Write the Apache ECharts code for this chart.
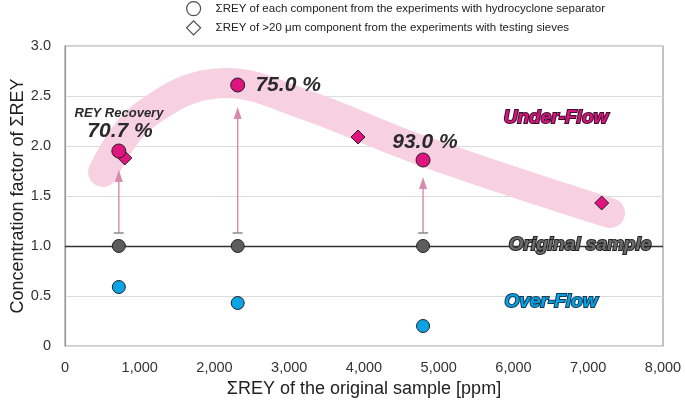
<!DOCTYPE html>
<html><head><meta charset="utf-8">
<script src="https://cdn.jsdelivr.net/npm/echarts@6/dist/echarts.min.js"></script>
<style>html,body{margin:0;padding:0;background:#fff}#c{width:685px;height:409px}</style>
</head><body><div id="c"></div>
<script>
// Data
const origX = [720, 2310, 4790];
const originalY = [1.0, 1.0, 1.0];
const underFlowY = [1.95, 2.61, 1.86];
const overFlowY = [0.59, 0.43, 0.20];
const sieveX = [800, 3920, 7180];
const sieveY = [1.88, 2.09, 1.43];
const recoveries = ['70.7 %', '75.0 %', '93.0 %'];
const arrowBottom = [1.13, 1.13, 1.13];
const arrowTop = [1.76, 2.39, 1.69];
const bandPath = [[510,1.74],[1050,2.3],[2150,2.63],[3150,2.43],[4790,1.95],[7290,1.33]];
const xTicks = [0,1000,2000,3000,4000,5000,6000,7000,8000];
const yTicks = [0,0.5,1.0,1.5,2.0,2.5,3.0];
const legendNames = ['ΣREY of each component from the experiments with hydrocyclone separator','ΣREY of >20 μm component from the experiments with testing sieves'];

const FONT = '"Liberation Sans", Arial, sans-serif';
const chart = echarts.init(document.getElementById('c'));

const arrowData = origX.map((x,i)=>[x, arrowBottom[i], arrowTop[i]]);

const annot = [
  {value:[722,2.33], text:'REY Recovery', style:'rec'},
  {value:[736,2.15], text:recoveries[0], style:'pct'},
  {value:[2985,2.61], text:recoveries[1], style:'pct'},
  {value:[4815,2.04], text:recoveries[2], style:'pct'},
  {value:[6569,2.28], text:'Under-Flow', style:'uf'},
  {value:[6890,1.01], text:'Original sample', style:'os'},
  {value:[6502,0.44], text:'Over-Flow', style:'of'}
];
const richStyles = {
  rec:{fontSize:13, fontWeight:'bold', fontStyle:'italic', color:'#2a2a2a', fontFamily:FONT},
  pct:{fontSize:21, fontWeight:'bold', fontStyle:'italic', color:'#2a2a2a', fontFamily:FONT},
  uf:{fontSize:19, fontWeight:'bold', fontStyle:'italic', color:'#d4157e', fontFamily:FONT, textBorderColor:'#3a1028', textBorderWidth:2},
  os:{fontSize:19, fontWeight:'bold', fontStyle:'italic', color:'#6b6b6b', fontFamily:FONT, textBorderColor:'#222', textBorderWidth:2},
  of:{fontSize:19, fontWeight:'bold', fontStyle:'italic', color:'#0aa0e0', fontFamily:FONT, textBorderColor:'#123a55', textBorderWidth:2}
};

const marker = (c)=>({color:c, borderColor:'#222', borderWidth:1, opacity:1});

chart.setOption({
  animation:false,
  backgroundColor:'#fff',
  grid:{left:65, right:22, top:46, bottom:63, show:true, borderColor:'#9a9a9a', borderWidth:1.2, containLabel:false, outerBoundsMode:'none'},
  legend:{
    orient:'vertical', left:181, top:-4, itemGap:4, itemWidth:14, itemHeight:14,
    data:[{name:legendNames[0], icon:'circle'},{name:legendNames[1], icon:'diamond'}],
    textStyle:{fontFamily:FONT, fontSize:11.5, color:'#222', padding:[0,0,0,10]},
    itemStyle:{color:'#fff', borderColor:'#222', borderWidth:1.2}
  },
  xAxis:{
    type:'value', min:0, max:8000, interval:1000,
    axisLine:{show:false}, axisTick:{show:false}, splitLine:{show:false},
    axisLabel:{fontFamily:FONT, fontSize:14.5, color:'#333', margin:14,
      formatter:v=>v.toLocaleString('en-US')},
    name:'ΣREY of the original sample [ppm]', nameLocation:'middle', nameGap:33,
    nameTextStyle:{fontFamily:FONT, fontSize:18, color:'#222'}
  },
  yAxis:{
    type:'value', min:0, max:3, interval:0.5,
    axisLine:{show:true, lineStyle:{color:'#9a9a9a', width:1.2}}, axisTick:{show:false},
    splitLine:{show:true, lineStyle:{color:'#dcdcdc', width:1}},
    axisLabel:{fontFamily:FONT, fontSize:14.5, color:'#333', margin:14,
      formatter:v=>v===0?'0':v.toFixed(1)},
    name:'Concentration factor of ΣREY', nameLocation:'middle', nameGap:38, nameMoveOverlap:false,
    nameTextStyle:{fontFamily:FONT, fontSize:18, color:'#222'}
  },
  series:[
    {name:legendNames[0], type:'scatter', data:[], itemStyle:{color:'#fff'}},
    {name:legendNames[1], type:'scatter', data:[], itemStyle:{color:'#fff'}},
    {type:'line', data:bandPath, smooth:0.4, symbol:'none', silent:true, z:1,
      lineStyle:{color:'#f7d0e1', width:30, cap:'round', join:'round', opacity:1},
      markLine:{silent:true, symbol:'none', label:{show:false},
        lineStyle:{color:'#333', width:1.3, type:'solid'}, data:[{yAxis:1}]}},
    {type:'custom', z:3, silent:true, data:arrowData,
      renderItem:(params, api)=>{
        const x = api.value(0);
        const b = api.coord([x, api.value(1)]);
        const t = api.coord([x, api.value(2)]);
        return {type:'group', children:[
          {type:'line', shape:{x1:b[0], y1:b[1], x2:t[0], y2:t[1]+8}, style:{stroke:'#d58aae', lineWidth:1.4}},
          {type:'polygon', shape:{points:[[t[0],t[1]],[t[0]-4,t[1]+12],[t[0]+4,t[1]+12]]}, style:{fill:'#d58aae'}},
          {type:'line', shape:{x1:b[0]-5, y1:b[1], x2:b[0]+5, y2:b[1]}, style:{stroke:'#8a8a8a', lineWidth:1.5}}
        ]};
      }},
    {type:'scatter', z:5, symbol:'circle', symbolSize:13, data:origX.map((x,i)=>[x,originalY[i]]), itemStyle:marker('#5d5d5d')},
    {type:'scatter', z:5, symbol:'circle', symbolSize:13, data:origX.map((x,i)=>[x,overFlowY[i]]), itemStyle:marker('#0aa3e6')},
    {type:'scatter', z:6, symbol:'diamond', symbolSize:14, data:sieveX.map((x,i)=>[x,sieveY[i]]), itemStyle:marker('#e0147e')},
    {type:'scatter', z:7, symbol:'circle', symbolSize:14, data:origX.map((x,i)=>[x,underFlowY[i]]), itemStyle:marker('#e0147e')},
    {type:'scatter', z:8, symbolSize:0, silent:true, itemStyle:{opacity:1},
      data:annot.map(a=>({value:a.value, label:{show:true, position:'inside',
        formatter:'{'+a.style+'|'+a.text+'}', rich:richStyles}})),
      label:{show:true}}
  ]
});
</script></body></html>
